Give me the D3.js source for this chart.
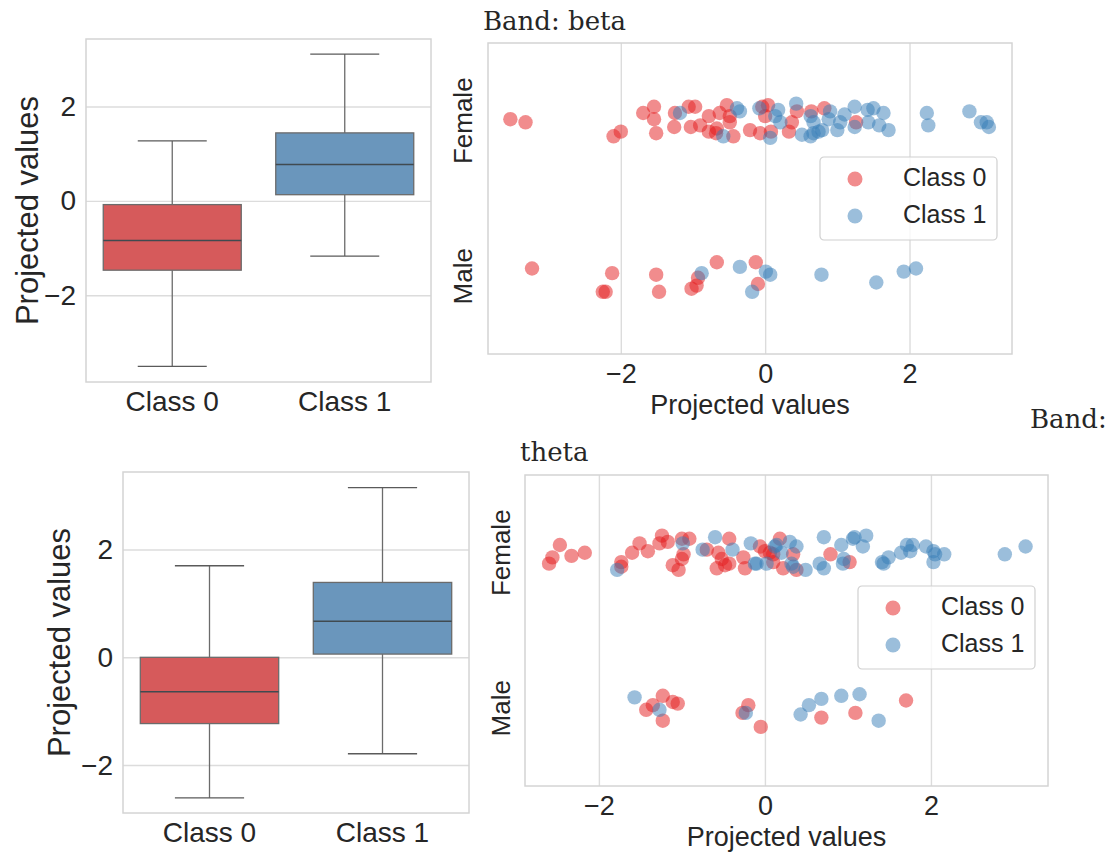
<!DOCTYPE html>
<html lang="en">
<head>
    <meta charset="UTF-8">
    <title>Projected values by band</title>
    <style>
        body { margin: 0; background: #fff; }
        text { fill: #262626; font-family: "Liberation Sans", Arial, sans-serif; }
        .grid line { stroke: #dcdcdc; stroke-width: 1.4px; }
        .grid .domain { display: none; }
        .frame { fill: none; stroke: #d4d4d4; stroke-width: 1.5px; }
        .title { font-family: "DejaVu Serif", "Liberation Serif", serif; font-size: 26px; }
    </style>
    <script src="https://d3js.org/d3.v7.min.js"></script>
</head>
<body>
    <script>
        // categories
        const classes = ["Class 0", "Class 1"];
        const sexes = ["Female", "Male"];
        const xTicks = [-2, 0, 2];
        const yTicks = [-2, 0, 2];

        // box stats: [whisker low, q1, median, q3, whisker high]
        const betaBox0 = [-3.51, -1.47, -0.84, -0.08, 1.27];
        const betaBox1 = [-1.17, 0.13, 0.77, 1.44, 3.11];
        const thetaBox0 = [-2.61, -1.23, -0.64, 0.0, 1.70];
        const thetaBox1 = [-1.79, 0.06, 0.67, 1.39, 3.15];

        // strip points: [projected value, jitter (in category units)]
        const betaFemale0 = [[-3.53,-0.01],[-3.32,0.01],[-2.10,0.10],[-2.00,0.07],[-1.69,-0.05],[-1.54,-0.09],[-1.54,-0.01],[-1.51,0.08],[-1.26,0.04],[-1.25,-0.05],[-1.06,-0.09],[-0.97,-0.09],[-1.03,0.04],[-0.90,0.03],[-0.78,-0.03],[-0.78,0.07],[-0.67,0.05],[-0.68,0.08],[-0.63,-0.05],[-0.53,-0.10],[-0.49,-0.03],[-0.49,0.01],[-0.44,0.10],[-0.21,0.06],[-0.07,0.08],[-0.04,-0.09],[0.04,-0.10],[0.00,-0.03],[0.08,0.07],[0.33,0.07],[0.37,0.01],[0.44,-0.06],[0.64,-0.06],[0.82,-0.08],[1.26,0.01]];
        const betaFemale1 = [[-1.18,-0.05],[-0.58,0.10],[-0.39,-0.08],[-0.35,-0.06],[-0.08,-0.08],[0.07,0.11],[0.14,-0.03],[0.18,-0.07],[0.21,0.01],[0.43,-0.11],[0.51,0.09],[0.63,0.10],[0.67,0.08],[0.74,0.07],[0.79,0.06],[0.63,-0.03],[0.67,0.01],[0.90,-0.06],[0.88,-0.01],[1.00,0.06],[1.04,0.01],[1.10,-0.04],[1.24,-0.09],[1.24,0.04],[1.42,-0.07],[1.50,-0.08],[1.64,-0.05],[1.43,0.01],[1.58,0.03],[1.71,0.06],[2.24,-0.05],[2.26,0.03],[2.83,-0.06],[2.99,0.01],[3.07,0.01],[3.10,0.04]];
        const betaMale0 = [[-3.23,-0.05],[-2.12,-0.02],[-2.25,0.10],[-2.21,0.10],[-1.51,-0.01],[-1.47,0.10],[-0.93,0.01],[-1.02,0.08],[-0.95,0.06],[-0.67,-0.09],[-0.13,-0.09],[-0.10,0.05]];
        const betaMale1 = [[-0.88,-0.02],[-0.35,-0.06],[-0.18,0.10],[0.01,-0.03],[0.07,-0.01],[0.78,-0.01],[1.54,0.04],[1.92,-0.03],[2.09,-0.05]];

        const thetaFemale0 = [[-2.60,0.07],[-2.56,0.03],[-2.47,-0.05],[-2.33,0.02],[-2.17,0.00],[-1.73,0.09],[-1.73,0.06],[-1.60,0.00],[-1.51,-0.06],[-1.41,-0.01],[-1.27,-0.06],[-1.24,-0.11],[-1.17,-0.07],[-1.11,0.08],[-1.04,0.11],[-1.00,0.04],[-0.98,0.01],[-0.91,-0.09],[-1.00,-0.09],[-0.70,-0.02],[-0.56,0.00],[-0.52,0.04],[-0.58,0.10],[-0.48,0.08],[-0.43,0.07],[-0.43,-0.09],[-0.26,0.03],[-0.24,0.10],[-0.06,-0.04],[0.00,-0.01],[0.06,0.00],[0.10,0.01],[0.10,0.06],[0.18,-0.09],[0.34,0.01],[0.22,0.10],[0.38,0.11],[0.79,0.01],[1.02,0.06]];
        const thetaFemale1 = [[-1.78,0.11],[-0.99,-0.06],[-0.75,-0.02],[-0.60,-0.10],[-0.39,-0.02],[-0.17,-0.06],[-0.10,0.07],[0.02,0.07],[0.12,-0.04],[-0.12,0.07],[0.14,-0.05],[0.30,-0.07],[0.38,-0.04],[0.20,0.00],[0.32,0.07],[0.34,0.09],[0.49,0.11],[0.71,-0.10],[0.66,0.07],[0.71,0.10],[0.92,-0.05],[0.94,0.07],[0.95,0.04],[1.06,-0.09],[1.08,-0.10],[1.22,-0.11],[1.18,-0.04],[1.41,0.06],[1.43,0.07],[1.49,0.03],[1.64,0.00],[1.71,-0.05],[1.78,-0.05],[1.75,-0.01],[1.94,-0.04],[2.03,-0.01],[2.05,0.01],[2.03,0.06],[2.16,0.01],[2.89,0.01],[3.14,-0.04]];
        const thetaMale0 = [[-1.43,0.01],[-1.35,-0.02],[-1.23,-0.08],[-1.11,-0.04],[-1.05,-0.03],[-1.23,0.08],[-0.27,0.03],[-0.20,-0.02],[-0.05,0.12],[0.68,0.06],[1.09,0.03],[1.70,-0.05]];
        const thetaMale1 = [[-1.57,-0.07],[-1.27,0.01],[-0.23,0.03],[0.43,0.04],[0.53,-0.02],[0.68,-0.06],[0.92,-0.08],[1.14,-0.09],[1.37,0.08]];

        const boxColors = ["#d65a5b", "#6a96bc"];
        const dotColors = ["#e41a1c", "#377eb8"];
        const fmt = d3.format("d");

        const svg = d3.select("body").append("svg")
            .attr("width", 1109).attr("height", 855);

        function boxPanel(box, stats, yDomain) {
            const g = svg.append("g");
            const x = d3.scalePoint().domain(classes).range([box.x0, box.x1]).padding(0.5);
            const y = d3.scaleLinear().domain(yDomain).range([box.y1, box.y0]);
            const step = x.step();

            // horizontal grid + y tick labels
            g.append("g").attr("class", "grid")
                .attr("transform", `translate(${box.x0},0)`)
                .call(d3.axisLeft(y).tickValues(yTicks).tickFormat(fmt)
                    .tickSize(-(box.x1 - box.x0)).tickPadding(10))
                .call(s => s.selectAll("text").style("font-size", "28px"));
            g.append("rect").attr("class", "frame")
                .attr("x", box.x0).attr("y", box.y0)
                .attr("width", box.x1 - box.x0).attr("height", box.y1 - box.y0);

            stats.forEach((s, i) => {
                const cx = x(classes[i]);
                const bw = step * 0.8;
                g.append("line").attr("x1", cx).attr("x2", cx)
                    .attr("y1", y(s[0])).attr("y2", y(s[1]))
                    .attr("stroke", "#6b6b6b").attr("stroke-width", 1.3);
                g.append("line").attr("x1", cx).attr("x2", cx)
                    .attr("y1", y(s[3])).attr("y2", y(s[4]))
                    .attr("stroke", "#6b6b6b").attr("stroke-width", 1.3);
                [s[0], s[4]].forEach(v => {
                    g.append("line").attr("x1", cx - bw / 4).attr("x2", cx + bw / 4)
                        .attr("y1", y(v)).attr("y2", y(v))
                        .attr("stroke", "#5a5a5a").attr("stroke-width", 1.3);
                });
                g.append("rect")
                    .attr("x", cx - bw / 2).attr("y", y(s[3]))
                    .attr("width", bw).attr("height", y(s[1]) - y(s[3]))
                    .attr("fill", boxColors[i]).attr("stroke", "#6b6b6b").attr("stroke-width", 1.3);
                g.append("line").attr("x1", cx - bw / 2).attr("x2", cx + bw / 2)
                    .attr("y1", y(s[2])).attr("y2", y(s[2]))
                    .attr("stroke", "#404a50").attr("stroke-width", 1.5);
                g.append("text").attr("x", cx).attr("y", box.y1 + 22)
                    .attr("text-anchor", "middle").attr("dominant-baseline", "middle")
                    .style("font-size", "28px").text(classes[i]);
            });

            g.append("text")
                .attr("transform", `translate(${box.labelX},${(box.y0 + box.y1) / 2}) rotate(-90)`)
                .attr("text-anchor", "middle").attr("dominant-baseline", "middle")
                .style("font-size", "31px").text("Projected values");
        }

        function stripPanel(box, xDomain, groups, legend) {
            const g = svg.append("g");
            const x = d3.scaleLinear().domain(xDomain).range([box.x0, box.x1]);
            const y = d3.scalePoint().domain(sexes).range([box.y0, box.y1]).padding(0.5);
            const step = y.step();

            g.append("g").attr("class", "grid")
                .attr("transform", `translate(0,${box.y1})`)
                .call(d3.axisBottom(x).tickValues(xTicks).tickFormat(fmt)
                    .tickSize(-(box.y1 - box.y0)).tickPadding(10))
                .call(s => s.selectAll("text").style("font-size", "27px"));
            g.append("rect").attr("class", "frame")
                .attr("x", box.x0).attr("y", box.y0)
                .attr("width", box.x1 - box.x0).attr("height", box.y1 - box.y0);

            // red first, blue on top
            [0, 1].forEach(c => {
                sexes.forEach((sx, k) => {
                    g.selectAll(null).data(groups[k][c]).enter().append("circle")
                        .attr("cx", d => x(d[0]))
                        .attr("cy", d => y(sx) + d[1] * step)
                        .attr("r", 7.2)
                        .attr("fill", dotColors[c]).attr("fill-opacity", 0.5);
                });
            });

            sexes.forEach(sx => {
                g.append("text")
                    .attr("transform", `translate(${box.labelX},${y(sx)}) rotate(-90)`)
                    .attr("text-anchor", "middle").attr("dominant-baseline", "middle")
                    .style("font-size", "26px").text(sx);
            });

            g.append("text").attr("x", (box.x0 + box.x1) / 2).attr("y", box.y1 + 53)
                .attr("text-anchor", "middle").attr("dominant-baseline", "middle")
                .style("font-size", "27px").text("Projected values");

            // legend
            const lg = g.append("g").attr("transform", `translate(${legend.x},${legend.y})`);
            lg.append("rect").attr("width", 177).attr("height", 83).attr("rx", 4)
                .attr("fill", "#fff").attr("fill-opacity", 0.8)
                .attr("stroke", "#d0d0d0").attr("stroke-width", 1.2);
            classes.forEach((cl, i) => {
                lg.append("circle").attr("cx", 35).attr("cy", 22 + i * 37).attr("r", 7.5)
                    .attr("fill", dotColors[i]).attr("fill-opacity", 0.5);
                lg.append("text").attr("x", 83).attr("y", 22 + i * 37)
                    .attr("dominant-baseline", "middle")
                    .style("font-size", "25px").text(cl);
            });
        }

        boxPanel({ x0: 86, x1: 431, y0: 39, y1: 382, labelX: 30 },
            [betaBox0, betaBox1], [-3.84, 3.43]);
        stripPanel({ x0: 488, x1: 1012, y0: 43, y1: 354, labelX: 465 },
            [-3.84, 3.42], [[betaFemale0, betaFemale1], [betaMale0, betaMale1]], { x: 820, y: 157 });

        boxPanel({ x0: 123, x1: 469, y0: 472, y1: 813, labelX: 62 },
            [thetaBox0, thetaBox1], [-2.89, 3.44]);
        stripPanel({ x0: 525, x1: 1048, y0: 475, y1: 786, labelX: 503 },
            [-2.89, 3.41], [[thetaFemale0, thetaFemale1], [thetaMale0, thetaMale1]], { x: 858, y: 586 });

        // titles (rendered with a line break as in the source figure)
        svg.append("text").attr("class", "title").attr("x", 483).attr("y", 30).text("Band: beta");
        svg.append("text").attr("class", "title").attr("x", 1030).attr("y", 428).text("Band:");
        svg.append("text").attr("class", "title").attr("x", 520).attr("y", 461).text("theta");
    </script>
</body>
</html>
